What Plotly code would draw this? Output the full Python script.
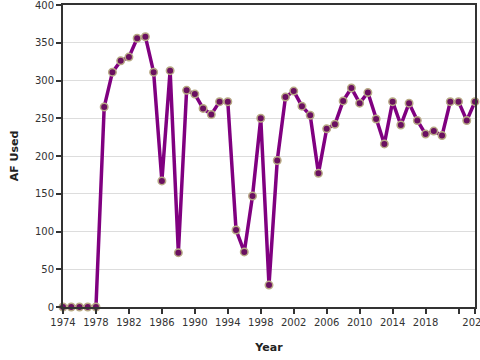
import plotly.graph_objects as go

years = list(range(1974, 2025))
af_used = [0, 0, 0, 0, 0, 265, 311, 326, 331, 356, 358, 311, 167, 313, 72,
           287, 282, 263, 255, 272, 272, 102, 73, 147, 250, 29, 194, 278, 286,
           266, 254, 177, 236, 242, 273, 290, 270, 284, 249, 216, 272, 241,
           270, 247, 229, 233, 227, 272, 272, 247, 272]

x_tickvals = [1974, 1978, 1982, 1986, 1990, 1994, 1998, 2002, 2006, 2010, 2014, 2018, 2022, 2024]
x_ticktext = ["1974", "1978", "1982", "1986", "1990", "1994", "1998", "2002", "2006", "2010", "2014", "2018", "", "2024"]
y_tickvals = [0, 50, 100, 150, 200, 250, 300, 350, 400]

fig = go.Figure()
fig.add_trace(go.Scatter(
    x=years, y=af_used, mode="lines+markers",
    line=dict(color="#800080", width=3.5),
    marker=dict(size=7.5, color="#6a1060", line=dict(color="#b8aa85", width=1.5)),
    showlegend=False,
))

axis_common = dict(
    showline=True, linecolor="#333333", linewidth=2, mirror=True,
    ticks="outside", ticklen=5, tickcolor="#333333", tickwidth=1.5,
    tickfont=dict(family="DejaVu Sans", size=10, color="#333333"),
    zeroline=False, automargin=False, ticklabeloverflow="allow",
)

fig.update_layout(
    width=480, height=360,
    margin=dict(l=63, r=5, t=5, b=53),
    paper_bgcolor="white", plot_bgcolor="white",
    font=dict(family="DejaVu Sans", size=10, color="#333333"),
    xaxis=dict(range=[1974, 2024], tickvals=x_tickvals, ticktext=x_ticktext,
               showgrid=False,
               title=dict(text="<b>Year</b>", font=dict(size=11, family="DejaVu Sans", color="#222"), standoff=16),
               **axis_common),
    yaxis=dict(range=[0, 400], tickvals=y_tickvals, showgrid=True, gridcolor="#dddddd", gridwidth=1,
               title=dict(text="<b>AF Used</b>", font=dict(size=11, family="DejaVu Sans", color="#222"), standoff=14),
               **axis_common),
)
fig.update_traces(cliponaxis=False)

fig.write_html("out.html", config={"displayModeBar": False},
               post_script="document.body.style.margin='0';document.body.style.overflow='hidden';")
